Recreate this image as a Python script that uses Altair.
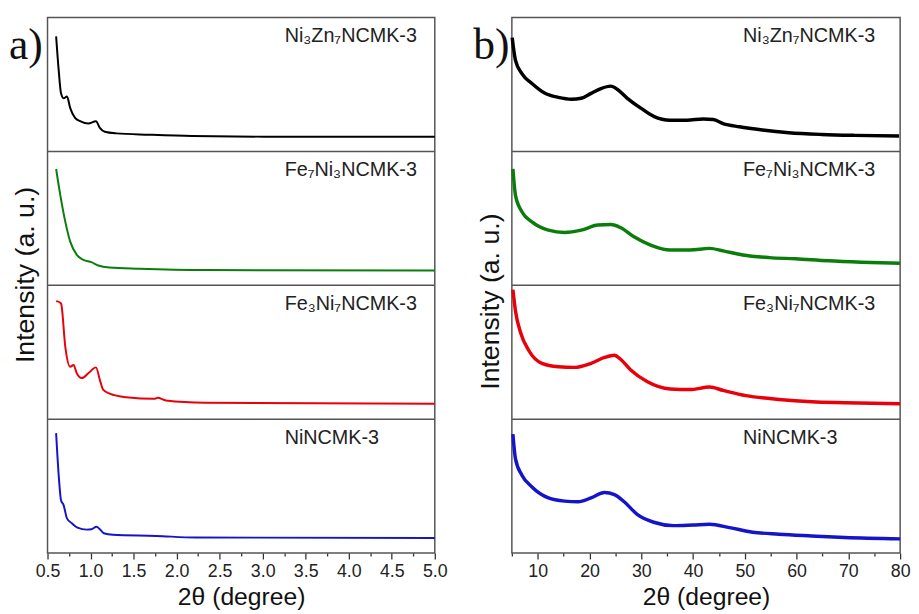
import altair as alt
import pandas as pd

# ---------------- data ----------------
names = ["Ni₃Zn₇NCMK-3", "Fe₇Ni₃NCMK-3", "Fe₃Ni₇NCMK-3", "NiNCMK-3"]
colors = ["#000000", "#0b7d0b", "#e8000a", "#1414c8"]
panel_tags = ["a)", "b)"]

# panel a (low angle), intensity as fraction of each stacked sub-panel height
a_ni3zn7_x = [0.60, 0.63, 0.657, 0.687, 0.726, 0.764, 0.82, 0.879, 0.974, 1.063, 1.108, 1.166, 1.30, 1.68, 2.18, 3.02, 5.0]
a_ni3zn7_y = [0.86, 0.605, 0.434, 0.397, 0.41, 0.324, 0.25, 0.226, 0.208, 0.226, 0.176, 0.147, 0.135, 0.125, 0.115, 0.11, 0.11]
a_fe7ni3_x = [0.60, 0.649, 0.707, 0.764, 0.84, 0.917, 1.01, 1.09, 1.22, 1.57, 2.33, 5.0]
a_fe7ni3_y = [0.869, 0.672, 0.474, 0.326, 0.227, 0.19, 0.173, 0.148, 0.133, 0.124, 0.114, 0.111]
a_fe3ni7_x = [0.60, 0.649, 0.66, 0.707, 0.764, 0.802, 0.84, 0.898, 0.974, 1.063, 1.108, 1.146, 1.223, 1.415, 1.74, 1.78, 1.875, 2.33, 5.0]
a_fe3ni7_y = [0.882, 0.87, 0.858, 0.539, 0.392, 0.404, 0.343, 0.307, 0.343, 0.387, 0.294, 0.221, 0.191, 0.164, 0.152, 0.16, 0.14, 0.123, 0.115]
a_ni_x = [0.60, 0.63, 0.657, 0.687, 0.726, 0.783, 0.848, 0.956, 1.01, 1.07, 1.108, 1.154, 1.26, 1.76, 2.22, 5.0]
a_ni_y = [0.896, 0.58, 0.395, 0.358, 0.259, 0.222, 0.19, 0.175, 0.178, 0.197, 0.178, 0.148, 0.136, 0.128, 0.116, 0.113]

# panel b (wide angle)
b_ni3zn7_x = [5.06, 5.7, 6.97, 8.88, 11.4, 13.97, 16.5, 18.4, 20.3, 22.2, 24.1, 25.4, 27.3, 29.9, 32.4, 35.6, 38.8, 41.96, 43.9, 45.8, 48.95, 53.4, 58.5, 64.85, 71.2, 79.8]
b_ni3zn7_y = [0.85, 0.68, 0.58, 0.507, 0.434, 0.404, 0.39, 0.397, 0.434, 0.47, 0.488, 0.463, 0.397, 0.324, 0.262, 0.233, 0.233, 0.243, 0.238, 0.208, 0.184, 0.16, 0.14, 0.127, 0.12, 0.115]
b_fe7ni3_x = [5.2, 5.7, 6.97, 8.88, 12.06, 15.2, 18.4, 21.6, 24.1, 26.05, 28.6, 31.8, 35.6, 39.4, 43.2, 45.8, 49.6, 54.7, 59.8, 66.1, 72.5, 80]
b_fe7ni3_y = [0.869, 0.672, 0.548, 0.474, 0.412, 0.395, 0.412, 0.45, 0.454, 0.43, 0.363, 0.301, 0.264, 0.264, 0.276, 0.257, 0.227, 0.207, 0.198, 0.183, 0.173, 0.165]
b_fe3ni7_x = [5.2, 5.7, 6.66, 8.24, 10.8, 13.97, 17.15, 20.3, 22.9, 24.8, 26.05, 27.96, 31.1, 35.6, 39.4, 43.2, 45.8, 50.2, 56.6, 62.9, 69.3, 80]
b_fe3ni7_y = [0.968, 0.809, 0.65, 0.515, 0.417, 0.392, 0.387, 0.417, 0.461, 0.478, 0.446, 0.368, 0.282, 0.226, 0.221, 0.24, 0.215, 0.176, 0.147, 0.13, 0.123, 0.115]
b_ni_x = [5.2, 5.7, 6.97, 8.88, 12.06, 15.2, 17.8, 20.3, 22.9, 24.8, 26.7, 29.2, 32.4, 36.2, 40.05, 43.2, 47.05, 51.5, 56.6, 62.9, 69.3, 80]
b_ni_y = [0.889, 0.704, 0.58, 0.494, 0.412, 0.388, 0.383, 0.412, 0.452, 0.437, 0.383, 0.289, 0.23, 0.205, 0.21, 0.215, 0.19, 0.156, 0.141, 0.128, 0.116, 0.106]

a_ticks = [0.5, 0.75, 1.0, 1.25, 1.5, 1.75, 2.0, 2.25, 2.5, 2.75, 3.0, 3.25, 3.5, 3.75, 4.0, 4.25, 4.5, 4.75, 5.0]
b_ticks = [5, 10, 15, 20, 25, 30, 35, 40, 45, 50, 55, 60, 65, 70, 75, 80]

a_series = [(a_ni3zn7_x, a_ni3zn7_y), (a_fe7ni3_x, a_fe7ni3_y), (a_fe3ni7_x, a_fe3ni7_y), (a_ni_x, a_ni_y)]
b_series = [(b_ni3zn7_x, b_ni3zn7_y), (b_fe7ni3_x, b_fe7ni3_y), (b_fe3ni7_x, b_fe3ni7_y), (b_ni_x, b_ni_y)]


def build_df(series):
    rows = []
    for i, (xs, vs) in enumerate(series):
        for xv, v in zip(xs, vs):
            rows.append({"name": names[i], "idx": i, "x": xv, "v": v})
    return pd.DataFrame(rows)


sep_df = pd.DataFrame({"y": [1, 2, 3]})
lab_df = pd.DataFrame({"name": names, "idx": [0, 1, 2, 3]})

FONT = "Liberation Sans"


def panel(series, domain, ticks, major_test, label_expr, label_px, tag, sw, title_y, width):
    df = build_df(series)
    x = alt.X("x:Q", scale=alt.Scale(domain=domain, nice=False, zero=False),
              axis=alt.Axis(values=ticks, title="2θ (degree)", labelExpr=label_expr,
                            tickSize={"condition": {"test": major_test, "value": 6}, "value": 3},
                            tickColor="#333", tickWidth=1.3, domain=False, grid=False,
                            labelFont=FONT, labelFontSize=18, labelColor="#222",
                            labelFlush=False, labelOverlap=False, labelPadding=4,
                            titleFont=FONT, titleFontSize=25, titleFontWeight="normal",
                            titleColor="#111", titlePadding=4))
    y_axis = alt.Axis(title="Intensity (a. u.)", labels=False, ticks=False, domain=False,
                      grid=False, titleFont=FONT, titleFontSize=27, titleFontWeight="normal",
                      titleColor="#111", titlePadding=8, titleY=title_y)
    yscale = alt.Scale(domain=[0, 4], nice=False, zero=False)

    lines = alt.Chart(df).transform_calculate(y="datum.v + 3 - datum.idx").mark_line(
        strokeWidth=sw, interpolate="monotone").encode(
        x=x,
        y=alt.Y("y:Q", scale=yscale, axis=y_axis),
        color=alt.Color("name:N", scale=alt.Scale(domain=names, range=colors), legend=None),
        detail="name:N",
    )
    seps = alt.Chart(sep_df).mark_rule(color="#555", strokeWidth=1.5).encode(
        y=alt.Y("y:Q", scale=yscale, axis=y_axis))
    labels = alt.Chart(lab_df).transform_calculate(y="3 - datum.idx + 0.815").mark_text(
        align="left", baseline="alphabetic", font=FONT, fontSize=20, color="#222").encode(
        x=alt.value(label_px),
        y=alt.Y("y:Q", scale=yscale, axis=y_axis),
        text="name:N")
    tagc = alt.Chart(pd.DataFrame({"t": [tag]})).mark_text(
        align="left", baseline="alphabetic", font="Liberation Serif", fontSize=44, color="#111").encode(
        x=alt.value(-39), y=alt.value(42), text="t:N")
    return alt.layer(lines, seps, labels, tagc).properties(width=width, height=542)


pa = panel(a_series, [0.5, 5.0], a_ticks, "datum.value % 0.5 == 0",
           "datum.value % 0.5 == 0 ? format(datum.value, '.1f') : ''", 240, panel_tags[0], 2, 260, 392)
pb = panel(b_series, [5, 80], b_ticks, "datum.value % 10 == 0",
           "datum.value % 10 == 0 ? format(datum.value, 'd') : ''", 234, panel_tags[1], 3.5, 287, 393)

chart = alt.hconcat(pa, pb, spacing=24).properties(
    padding={"left": 0, "top": 5, "right": 0, "bottom": 0}
).configure_view(stroke="#555", strokeWidth=1.5)

chart.save("out.html", embed_options={"renderer": "svg", "actions": False})
